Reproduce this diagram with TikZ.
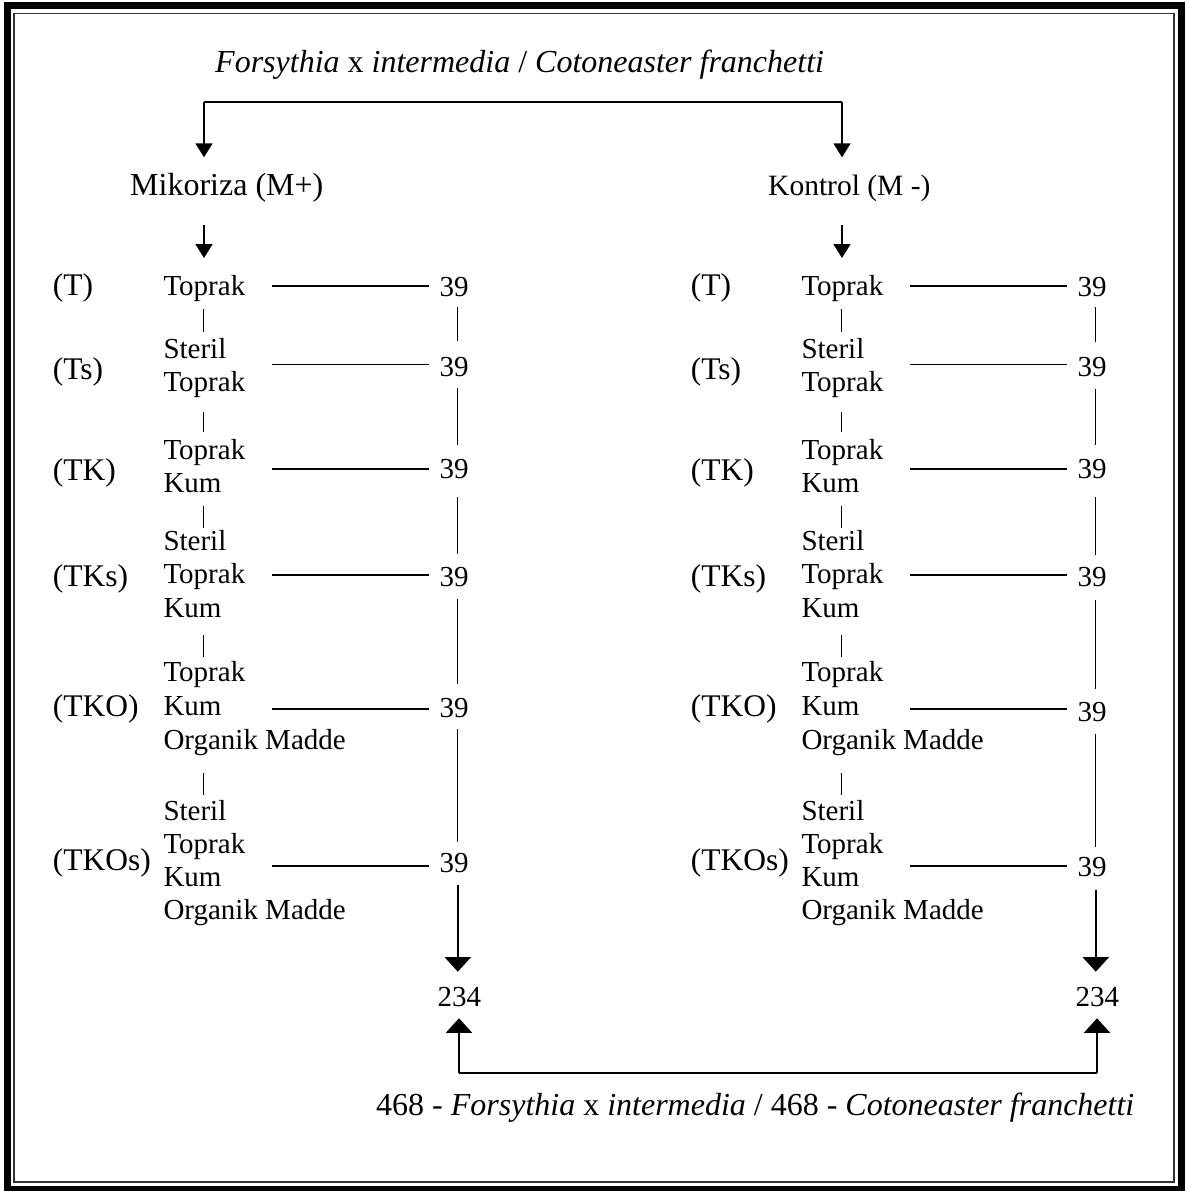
\documentclass[tikz,border=0pt]{standalone}
\usepackage{fontspec}
\setmainfont{Liberation Serif}
\usetikzlibrary{arrows.meta}
\begin{document}
\begin{tikzpicture}[x=1pt,y=-1pt,
  txt/.style={anchor=base west, inner sep=0pt, font=\fontsize{29}{33.5}\selectfont},
  head/.style={anchor=base west, inner sep=0pt, font=\fontsize{32}{38}\selectfont},
  lab/.style={anchor=base west, inner sep=0pt, font=\fontsize{31.5}{36}\selectfont},
  conn/.style={line width=1.8pt},
  tick/.style={line width=1.5pt},
  arr/.style={conn,-{Triangle[width=17pt,length=14pt]}},
  bigarr/.style={conn,-{Triangle[width=26pt,length=14.5pt]}}]
\useasboundingbox (0,0) rectangle (1187,1191);
% frame
\draw[line width=7pt] (7,5.5) rectangle (1181,1189);
\draw[line width=1.6pt, black!80] (13.8,13.5) rectangle (1174,1182);

% top
\node[head] (title) at (215,72) {\textit{Forsythia} x \textit{intermedia} / \textit{Cotoneaster franchetti}};
\node[head] (mik) at (130,195) {Mikoriza (M+)};
\node[head, font=\fontsize{29.5}{36}\selectfont] (kon) at (768,195) {Kontrol (M -)};
\coordinate (topL) at (204,102.3);
\coordinate (topR) at (842,102.3);
\coordinate (tipL) at (204,157.3);
\coordinate (tipR) at (842,157.3);
\draw[conn] (topL) -- (topR);
\draw[arr] (topL) -- (tipL);
\draw[arr] (topR) -- (tipR);

\foreach \s/\dx/\a/\b/\c/\d/\e/\f in {L/0/296.7/376/478/586/717/872, R/638/296.7/376.7/478.3/586.7/721.7/876.7}{
 \begin{scope}[xshift=\dx pt]
  % small arrow under heading
  \coordinate (\s-a0) at (204,225);
  \coordinate (\s-a1) at (204,258);
  \draw[arr] (\s-a0) -- (\s-a1);
  % row labels
  \node[lab] (\s-labT) at (52.7,295) {(T)};
  \node[lab] (\s-labTs) at (52.7,379) {(Ts)};
  \node[lab] (\s-labTK) at (52.7,480) {(TK)};
  \node[lab] (\s-labTKs) at (52.7,586) {(TKs)};
  \node[lab] (\s-labTKO) at (52.7,716) {(TKO)};
  \node[lab] (\s-labTKOs) at (52.7,870) {(TKOs)};
  % text blocks
  \node[txt] (\s-T1) at (163.3,295) {Toprak};
  \node[txt] (\s-Ts1) at (163.3,358.3) {Steril};
  \node[txt] (\s-Ts2) at (163.3,391.7) {Toprak};
  \node[txt] (\s-TK1) at (163.3,459.5) {Toprak};
  \node[txt] (\s-TK2) at (163.3,492) {Kum};
  \node[txt] (\s-TKs1) at (163.3,550) {Steril};
  \node[txt] (\s-TKs2) at (163.3,583.3) {Toprak};
  \node[txt] (\s-TKs3) at (163.3,617) {Kum};
  \node[txt] (\s-TKO1) at (163.3,681.7) {Toprak};
  \node[txt] (\s-TKO2) at (163.3,715.5) {Kum};
  \node[txt] (\s-TKO3) at (163.3,749.3) {Organik Madde};
  \node[txt] (\s-TKOs1) at (163.3,820) {Steril};
  \node[txt] (\s-TKOs2) at (163.3,853.3) {Toprak};
  \node[txt] (\s-TKOs3) at (163.3,886.7) {Kum};
  \node[txt] (\s-TKOs4) at (163.3,919) {Organik Madde};
  % ticks between blocks
  \coordinate (\s-k1a) at (203.3,309.3); \coordinate (\s-k1b) at (203.3,331.7);
  \coordinate (\s-k2a) at (203.3,411.7); \coordinate (\s-k2b) at (203.3,431.7);
  \coordinate (\s-k3a) at (203.3,506);   \coordinate (\s-k3b) at (203.3,528.3);
  \coordinate (\s-k4a) at (203.3,635);   \coordinate (\s-k4b) at (203.3,656.7);
  \coordinate (\s-k5a) at (203.3,773.3); \coordinate (\s-k5b) at (203.3,795);
  \foreach \k in {1,...,5}{\draw[tick] (\s-k\k a) -- (\s-k\k b);}
  % counts
  \node[txt] (\s-n1) at (439.3,\a) {39};
  \node[txt] (\s-n2) at (439.3,\b) {39};
  \node[txt] (\s-n3) at (439.3,\c) {39};
  \node[txt] (\s-n4) at (439.3,\d) {39};
  \node[txt] (\s-n5) at (439.3,\e) {39};
  \node[txt] (\s-n6) at (439.3,\f) {39};
  % horizontal lines
  \coordinate (\s-h1a) at (271.7,286);   \coordinate (\s-h1b) at (428.5,286);
  \coordinate (\s-h2a) at (271.7,364.5); \coordinate (\s-h2b) at (428.5,364.5);
  \coordinate (\s-h3a) at (271.7,469.3); \coordinate (\s-h3b) at (428.5,469.3);
  \coordinate (\s-h4a) at (271.7,575);   \coordinate (\s-h4b) at (428.5,575);
  \coordinate (\s-h5a) at (271.7,709.3); \coordinate (\s-h5b) at (428.5,709.3);
  \coordinate (\s-h6a) at (271.7,865.7); \coordinate (\s-h6b) at (428.5,865.7);
  \foreach \k in {1,...,6}{\draw[conn] (\s-h\k a) -- (\s-h\k b);}
  % vertical lines between counts
  \coordinate (\s-v1a) at (457.5,\a+10.5); \coordinate (\s-v1b) at (457.5,\b-35);
  \coordinate (\s-v2a) at (457.5,\b+12);   \coordinate (\s-v2b) at (457.5,\c-33);
  \coordinate (\s-v3a) at (457.5,\c+19);   \coordinate (\s-v3b) at (457.5,\d-32);
  \coordinate (\s-v4a) at (457.5,\d+13);   \coordinate (\s-v4b) at (457.5,\e-33);
  \coordinate (\s-v5a) at (457.5,\e+12);   \coordinate (\s-v5b) at (457.5,\f-30);
  \foreach \k in {1,...,5}{\draw[conn] (\s-v\k a) -- (\s-v\k b);}
  % to total
  \coordinate (\s-v6a) at (457.8,\f+13);
  \coordinate (\s-v6b) at (457.8,971.7);
  \draw[bigarr] (\s-v6a) -- (\s-v6b);
  \node[txt] (\s-tot) at (437.3,1006.7) {234};
  \coordinate (\s-up0) at (459,1073.3);
  \coordinate (\s-up1) at (459,1018.3);
  \draw[bigarr] (\s-up0) -- (\s-up1);
 \end{scope}
}
\draw[conn] (L-up0) -- (R-up0);
\node[head] (bottom) at (376,1115) {468 - \textit{Forsythia} x \textit{intermedia} / 468 - \textit{Cotoneaster franchetti}};
\end{tikzpicture}
\end{document}
